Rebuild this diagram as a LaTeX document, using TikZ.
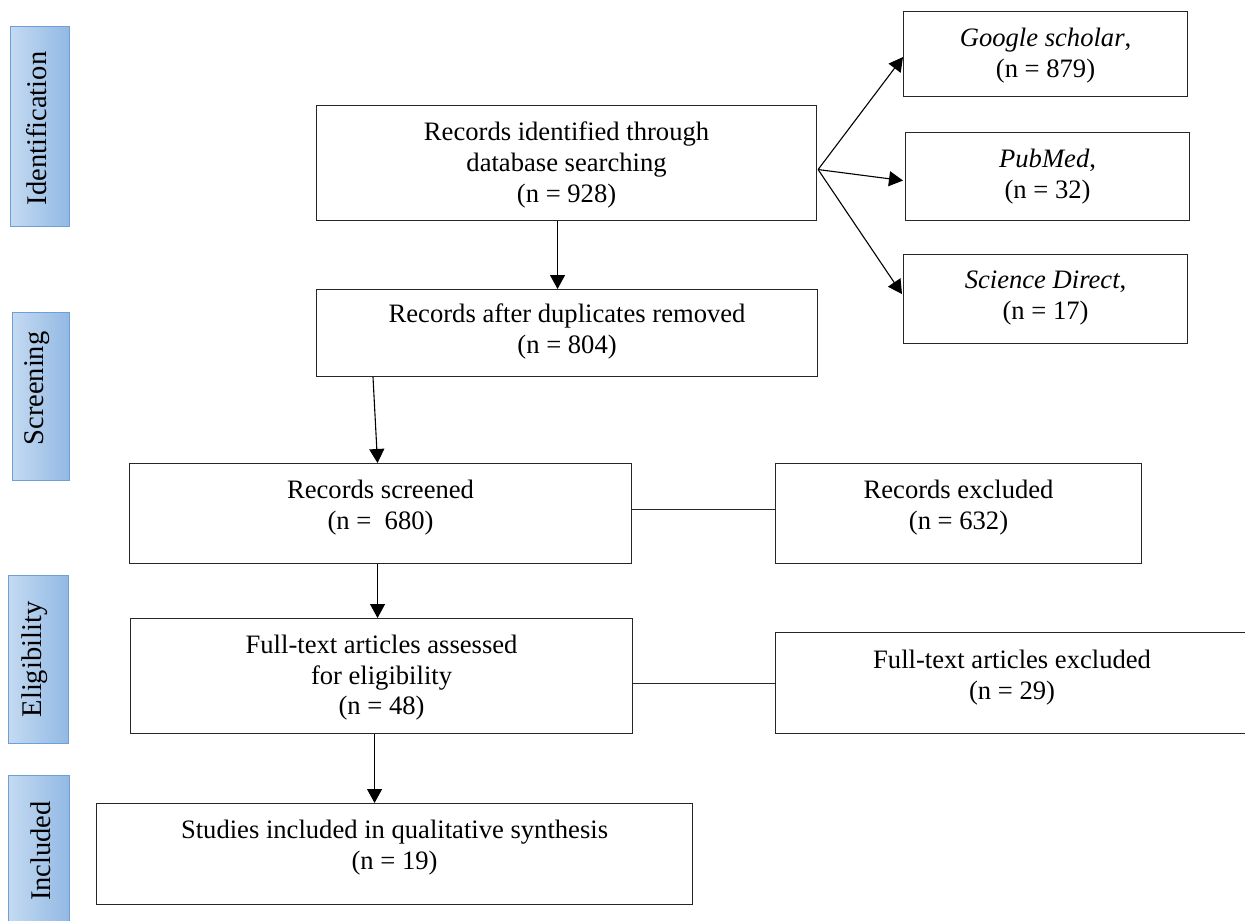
\documentclass[tikz,border=0pt]{standalone}
\usepackage{fontspec}
\setmainfont{Liberation Serif}
\usetikzlibrary{arrows.meta,calc}
\definecolor{sideL}{RGB}{196,218,241}
\definecolor{sideR}{RGB}{146,185,228}
\definecolor{sideB}{RGB}{110,160,215}
\begin{document}
\begin{tikzpicture}[x=1pt,y=-1pt,
  box/.style={draw=black!85, line width=1.1pt, inner sep=0pt, anchor=north west},
  txt/.style={align=center, inner sep=0pt, anchor=north, font=\fontsize{26.6}{30.6}\selectfont},
  sidebox/.style={draw=sideB, line width=1pt, left color=sideL, right color=sideR, inner sep=0pt, anchor=north west},
  sidetxt/.style={rotate=90, inner sep=0pt, font=\fontsize{28.5}{32}\selectfont},
  arr/.style={draw=black, line width=1.1pt, -{Triangle[length=14pt,width=15pt]}},
  ln/.style={draw=black!85, line width=1.1pt}]
\useasboundingbox (0,0) rectangle (1245,921);
\fill[white] (0,0) rectangle (1245,921);

% side labels
\node[sidebox, minimum width=59pt, minimum height=200pt] (sid) at (10,26) {};
\node[sidetxt] (sidT) at ($(sid.center)+(-3,2)$) {Identification};
\node[sidebox, minimum width=57pt, minimum height=168pt] (sscr) at (12,312) {};
\node[sidetxt] (sscrT) at ($(sscr.center)+(-4,-8)$) {Screening};
\node[sidebox, minimum width=60pt, minimum height=168pt] (sel) at (8,575) {};
\node[sidetxt] (selT) at ($(sel.center)+(-4,0)$) {Eligibility};
\node[sidebox, minimum width=61pt, minimum height=170pt] (sinc) at (8,775) {};
\node[sidetxt] (sincT) at (41,851) {Included};

% main boxes
\node[box, minimum width=500pt, minimum height=115pt] (rid) at (316,105) {};
\node[txt] (ridT) at ($(rid.north)+(0,17)$) {Records identified through\\database searching\\(n = 928)};

\node[box, minimum width=284pt, minimum height=85pt] (gs) at (903,11) {};
\node[txt] (gsT) at ($(gs.north)+(0,17)$) {\textit{Google scholar},\\(n = 879)};

\node[box, minimum width=284pt, minimum height=88pt] (pm) at (905,132) {};
\node[txt] (pmT) at ($(pm.north)+(0,17)$) {\textit{PubMed},\\(n = 32)};

\node[box, minimum width=284pt, minimum height=89pt] (sd) at (903,254) {};
\node[txt] (sdT) at ($(sd.north)+(0,17)$) {\textit{Science Direct},\\(n = 17)};

\node[box, minimum width=501pt, minimum height=87pt] (rad) at (316,289) {};
\node[txt] (radT) at ($(rad.north)+(0,15)$) {Records after duplicates removed\\(n = 804)};

\node[box, minimum width=502pt, minimum height=100pt] (scr) at (129,463) {};
\node[txt] (scrT) at ($(scr.north)+(0,17)$) {Records screened\\(n =~~680)};

\node[box, minimum width=366pt, minimum height=100pt] (rex) at (775,463) {};
\node[txt] (rexT) at ($(rex.north)+(0,17)$) {Records excluded\\(n = 632)};

\node[box, minimum width=502pt, minimum height=115pt] (fta) at (130,618) {};
\node[txt] (ftaT) at ($(fta.north)+(0,17)$) {Full-text articles assessed\\for eligibility\\(n = 48)};

\node[box, minimum width=473pt, minimum height=101pt] (ftx) at (775,632) {};
\node[txt] (ftxT) at ($(ftx.north)+(0,18)$) {Full-text articles excluded\\(n = 29)};

\node[box, minimum width=596pt, minimum height=101pt] (stu) at (96,803) {};
\node[txt] (stuT) at ($(stu.north)+(0,17)$) {Studies included in qualitative synthesis\\(n = 19)};

% connectors
\coordinate (fan) at ($(rid.east)+(1,6.5)$);
\draw[arr] (fan) -- ($(gs.west)+(0,3)$);
\draw[arr] (fan) -- ($(pm.west)+(-2,4)$);
\draw[arr] (fan) -- ($(sd.west)+(-1,-5)$);

\draw[arr] ([xshift=-9pt]rid.south) -- ([xshift=-9pt]rid.south |- rad.north);
\draw[arr] ($(rad.south west)+(57,0)$) -- ($(scr.north)+(-3,0)$);
\draw[arr] ([xshift=-3pt]scr.south) -- ([xshift=-3pt]scr.south |- fta.north);
\draw[arr] ([xshift=-7pt]fta.south) -- ([xshift=-7pt]fta.south |- stu.north);

\draw[ln] ($(scr.east)+(0,-4)$) -- ($(rex.west)+(0,-4)$);
\draw[ln] (ftx.west -| fta.east) -- (ftx.west);
\end{tikzpicture}
\end{document}
